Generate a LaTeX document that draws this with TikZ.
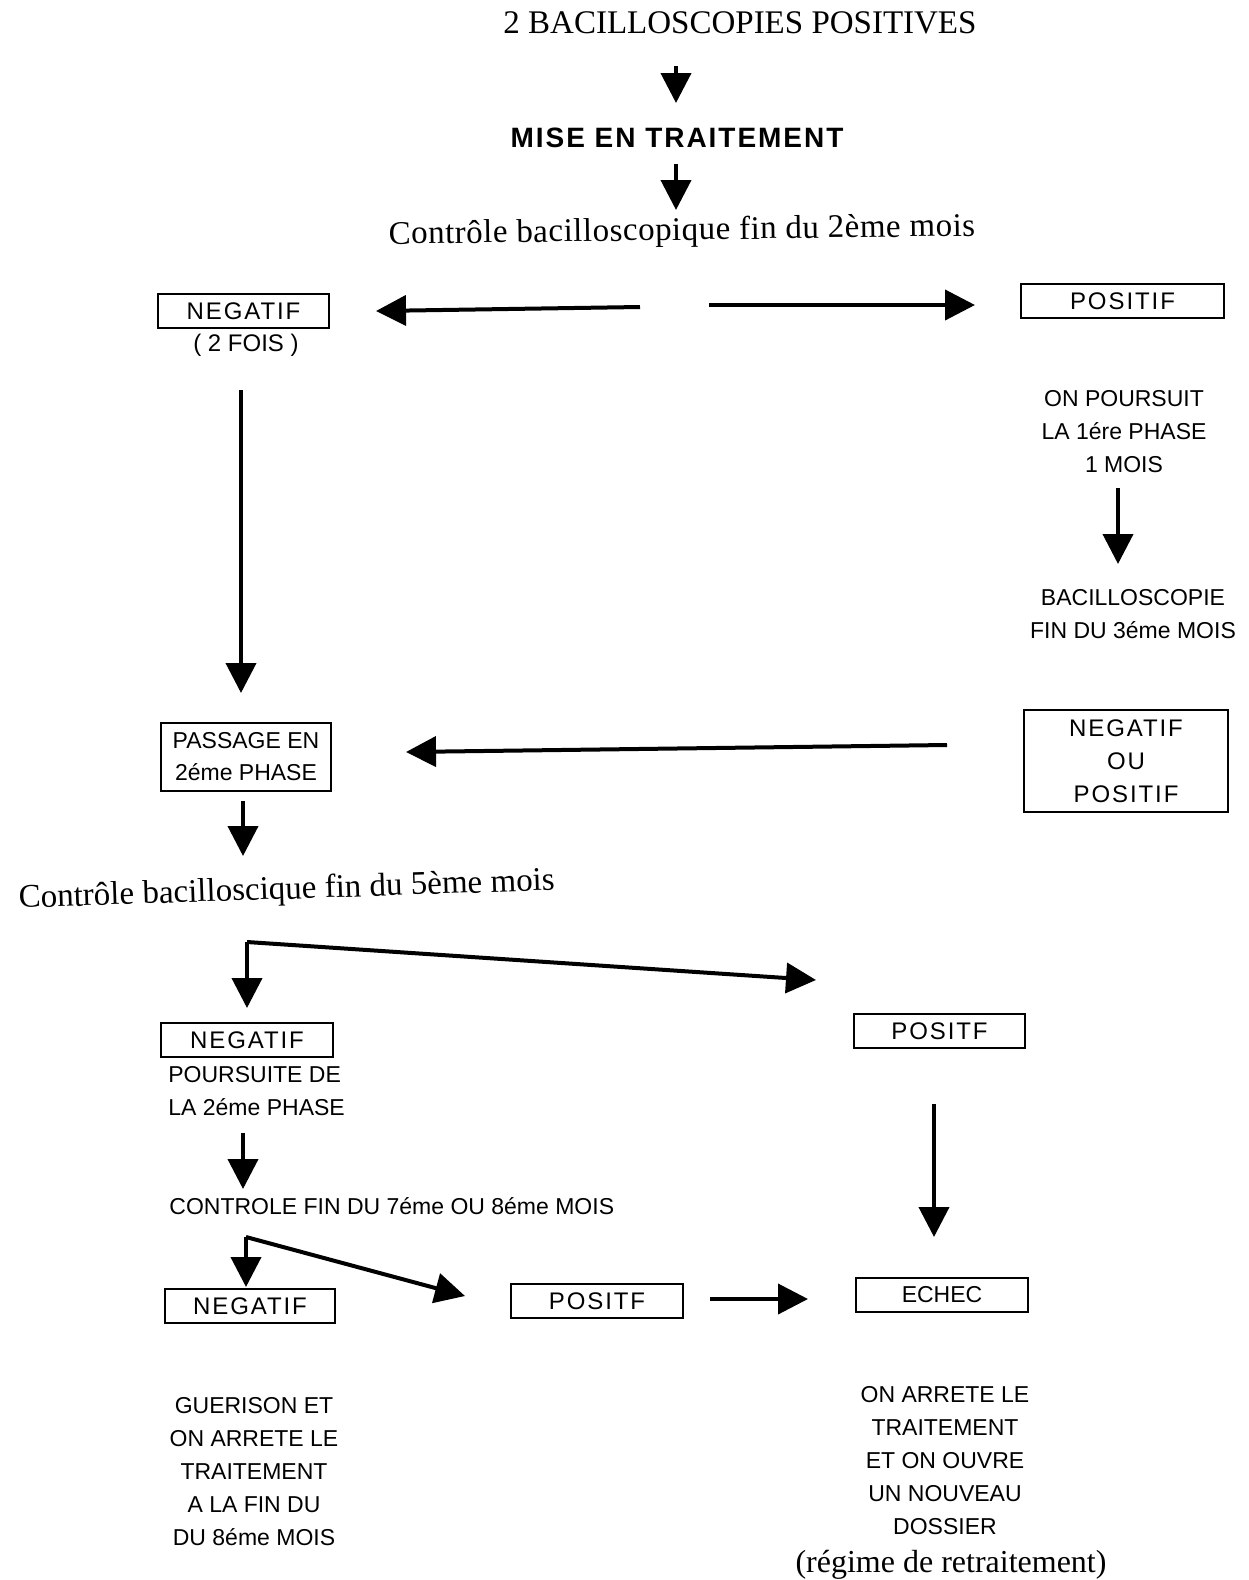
\documentclass[tikz,border=0pt]{standalone}
\usepackage{fontspec}
\setmainfont{Liberation Serif}
\setsansfont{Liberation Sans}
\newfontfamily\spacedsans[LetterSpace=8]{Liberation Sans}
\newfontfamily\widesans[LetterSpace=7]{Liberation Sans}
\usetikzlibrary{arrows.meta,positioning}
\tikzset{
  flow/.style={line width=2pt, -{Triangle[length=15pt,width=15pt]}},
  box/.style={draw, line width=1pt, inner sep=0pt, minimum width=86pt, minimum height=17pt,
              font=\spacedsans\fontsize{12}{16.5}\selectfont},
  caps/.style={inner sep=0pt, align=center, font=\sffamily\fontsize{11.5}{16.5}\selectfont},
  serif/.style={inner sep=0pt, anchor=base, font=\rmfamily\fontsize{16.5}{20}\selectfont}
}

\begin{document}
\begin{tikzpicture}[x=0.5pt,y=-0.5pt]
      \useasboundingbox (0,0) rectangle (1248,1580);

      % Start of treatment.
      \node[serif] (title) at (740,33) {2 BACILLOSCOPIES POSITIVES};
      \node[inner sep=0pt,font=\widesans\bfseries\fontsize{14}{16}\selectfont] (mise) at (677,138) {MISE EN TRAITEMENT};
      \node[serif,rotate=0.8] (ctrl2) at (682,240) {\addfontfeature{LetterSpace=1.5}Contrôle bacilloscopique fin du 2ème mois};
      \coordinate (t1a) at (676,66);  \coordinate (t1b) at (676,103);
      \coordinate (t2a) at (676,164); \coordinate (t2b) at (676,210);
      \draw[flow] (t1a) -- (t1b);
      \draw[flow] (t2a) -- (t2b);

      % First control: negative or positive.
      \node[box,minimum width=85.5pt] (neg1) at (243.5,311) {NEGATIF};
      \node[caps,font=\sffamily\fontsize{12}{16}\selectfont] (fois) at (246,345) {( 2 FOIS )};
      \node[box,minimum width=101.5pt] (pos1) at (1122.5,301) {POSITIF};
      \coordinate (la) at (640,307); \coordinate (lb) at (376,311);
      \coordinate (ra) at (709,305); \coordinate (rb) at (975,305);
      \draw[flow] (la) -- (lb);
      \draw[flow] (ra) -- (rb);

      % Positive branch: one more month of first phase.
      \node[caps] (poursuit) at (1124,432) {ON POURSUIT\\LA 1ére PHASE\\1 MOIS};
      \node[caps] (bacillo) at (1133,614) {BACILLOSCOPIE\\FIN DU 3éme MOIS};
      \coordinate (pa) at (1118,488); \coordinate (pb) at (1118,564);
      \draw[flow] (pa) -- (pb);
      \node[box,minimum width=102pt,minimum height=51pt,align=center] (negpos) at (1126,761) {NEGATIF\\OU\\POSITIF};

      % Second phase.
      \node[box,minimum width=85pt,minimum height=34pt,align=center,
            font=\sffamily\fontsize{11.5}{16}\selectfont] (passage) at (246,757) {PASSAGE EN\\2éme PHASE};
      \coordinate (na) at (241,390); \coordinate (nb) at (241,693);
      \draw[flow] (na) -- (nb);
      \coordinate (qa) at (947,745); \coordinate (qb) at (406,752);
      \draw[flow] (qa) -- (qb);
      \coordinate (sa) at (243,801); \coordinate (sb) at (243,856);
      \draw[flow] (sa) -- (sb);

      % Control at end of the 5th month.
      \node[serif,rotate=1.9] (ctrl5) at (287,899) {Contrôle bacilloscique fin du 5ème mois};
      \coordinate (c5) at (247,942);
      \coordinate (c5d) at (247,1008); \coordinate (c5r) at (816,980);
      \draw[flow] (c5) -- (c5d);
      \draw[flow] (c5) -- (c5r);
      \node[box] (neg2) at (247,1040) {NEGATIF};
      \node[caps,anchor=west,align=left] (suite) at (168,1091.5) {POURSUITE DE\\LA 2éme PHASE};
      \node[box,minimum width=85.5pt] (posf1) at (939.5,1031) {POSITF};
      \coordinate (fa) at (934,1104); \coordinate (fb) at (934,1237);
      \draw[flow] (fa) -- (fb);
      \coordinate (ga) at (243,1133); \coordinate (gb) at (243,1189);
      \draw[flow] (ga) -- (gb);

      % Final control.
      \node[caps,anchor=west] (ctrl78) at (169,1206) {CONTROLE FIN DU 7éme OU 8éme MOIS};
      \coordinate (c7) at (246,1237);
      \coordinate (c7d) at (246,1287); \coordinate (c7r) at (465,1296);
      \draw[flow] (c7) -- (c7d);
      \draw[flow] (c7) -- (c7r);
      \node[box,minimum width=85pt] (neg3) at (250,1306) {NEGATIF};
      \node[box] (posf2) at (597,1301) {POSITF};
      \node[box,font=\sffamily\fontsize{11.5}{16}\selectfont] (echec) at (942,1295) {ECHEC};
      \coordinate (ea) at (710,1299); \coordinate (eb) at (808,1299);
      \draw[flow] (ea) -- (eb);

      % Outcomes.
      \node[caps] (guerison) at (254,1471.5) {GUERISON ET\\ON ARRETE LE\\TRAITEMENT\\A LA FIN DU\\DU 8éme MOIS};
      \node[caps] (arrete) at (945,1461) {ON ARRETE LE\\TRAITEMENT\\ET ON OUVRE\\UN NOUVEAU\\DOSSIER};
      \node[serif,font=\rmfamily\fontsize{16}{20}\selectfont] (regime) at (951,1572) {(régime de retraitement)};

    \end{tikzpicture}
\end{document}
